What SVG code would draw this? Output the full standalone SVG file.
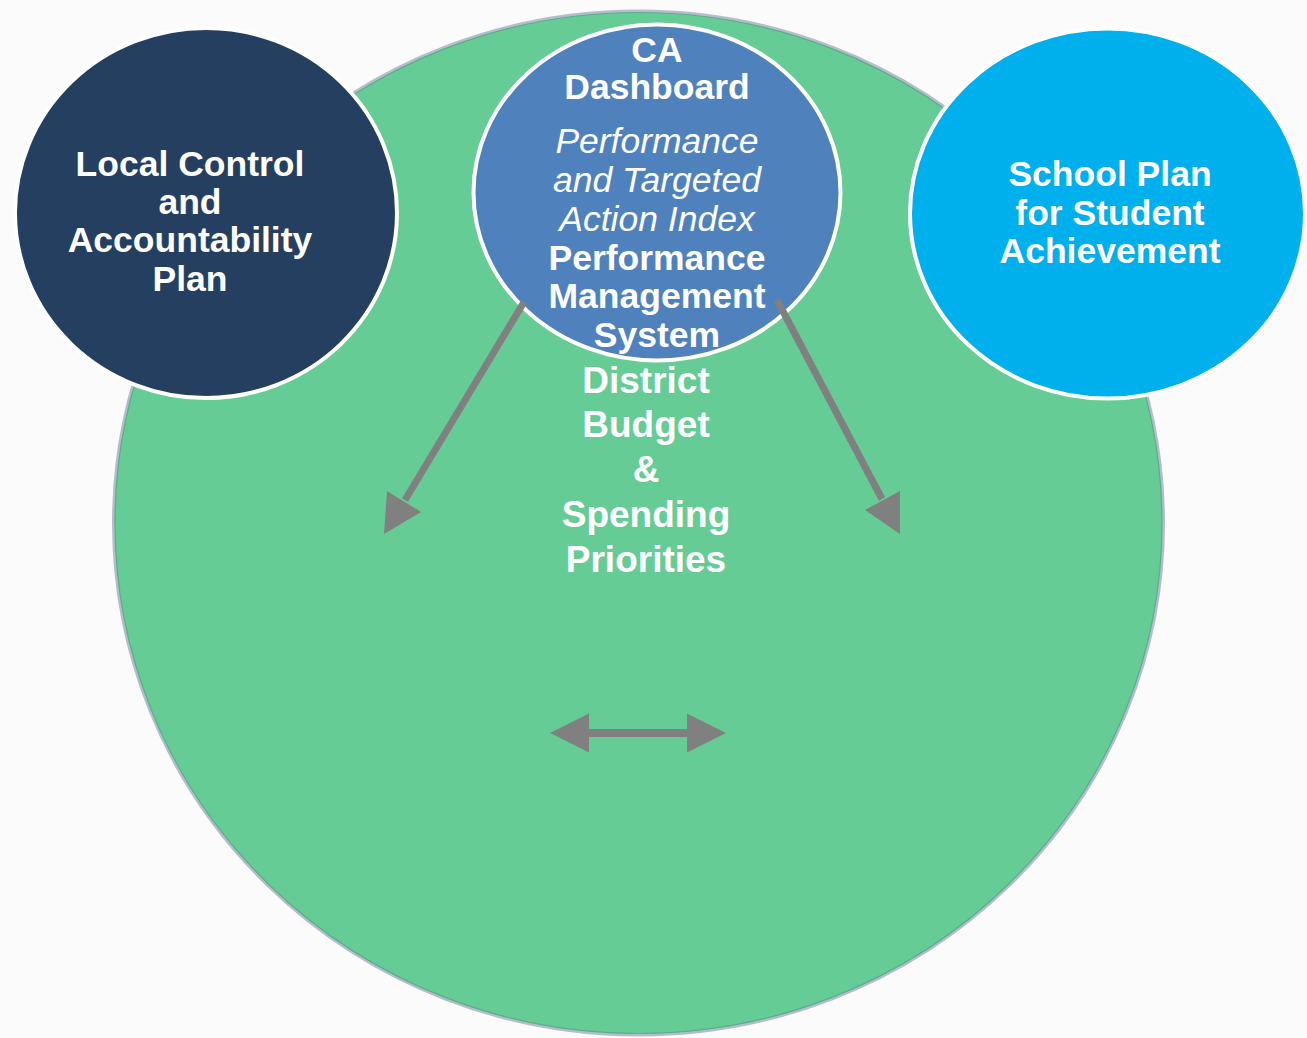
<svg xmlns="http://www.w3.org/2000/svg" width="1307" height="1038" viewBox="0 0 1307 1038">
<style>
.t{font-family:"Liberation Sans",Arial,sans-serif;fill:#ffffff;text-anchor:middle;font-size:35.5px}
.b{font-weight:bold}
.i{font-style:italic}
.g{font-size:37px;font-weight:bold}
.node{stroke:#ffffff;stroke-width:4}
.conn{stroke:#808080;stroke-width:7;fill:none}
.head{fill:#808080}
</style>
<rect width="1307" height="1038" fill="#fbfbfc"/>
<g id="budget">
<ellipse cx="638.5" cy="523" rx="525" ry="512" fill="#66cc96" stroke="#b4bccd" stroke-width="3"/>
<ellipse cx="638.5" cy="523" rx="523.5" ry="510.5" fill="none" stroke="#5aae88" stroke-width="1.2"/>
<text class="t g" x="646" y="393">District</text>
<text class="t g" x="646" y="437">Budget</text>
<text class="t g" x="646" y="482">&amp;</text>
<text class="t g" x="646" y="527">Spending</text>
<text class="t g" x="646" y="572">Priorities</text>
</g>
<g id="lcap">
<ellipse class="node" cx="206" cy="213" rx="191" ry="185" fill="#243f60"/>
<text class="t b" x="190" y="176">Local Control</text>
<text class="t b" x="190" y="214">and</text>
<text class="t b" x="190" y="252">Accountability</text>
<text class="t b" x="190" y="291">Plan</text>
</g>
<g id="spsa">
<ellipse class="node" cx="1107.5" cy="213.5" rx="197.5" ry="185" fill="#00b0ec"/>
<text class="t b" x="1110" y="186">School Plan</text>
<text class="t b" x="1110" y="225">for Student</text>
<text class="t b" x="1110" y="263">Achievement</text>
</g>
<g id="dashboard">
<ellipse class="node" cx="657" cy="192.5" rx="183.5" ry="168" fill="#4f81bd"/>
<text class="t b" x="657" y="62">CA</text>
<text class="t b" x="657" y="99">Dashboard</text>
<text class="t i" x="657" y="153">Performance</text>
<text class="t i" x="657" y="192">and Targeted</text>
<text class="t i" x="657" y="231">Action Index</text>
<text class="t b" x="657" y="270">Performance</text>
<text class="t b" x="657" y="308">Management</text>
<text class="t b" x="657" y="347">System</text>
</g>
<g id="connectors">
<line class="conn" x1="524" y1="302" x2="405" y2="500"/>
<polygon class="head" points="384,534 421,512 387,491"/>
<line class="conn" x1="777" y1="300" x2="882" y2="499"/>
<polygon class="head" points="900,534 900,491 865,510"/>
<line class="conn" x1="585" y1="733" x2="692" y2="733" style="stroke-width:8"/>
<polygon class="head" points="550,733 589,713.5 589,752.5"/>
<polygon class="head" points="726,733 687,713.5 687,752.5"/>
</g>
</svg>
